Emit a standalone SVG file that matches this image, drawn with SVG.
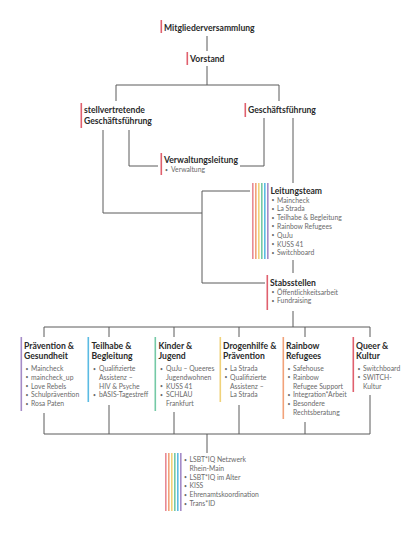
<svg xmlns="http://www.w3.org/2000/svg" width="416" height="546" viewBox="0 0 416 546">
<style>
.t{font-family:Lato,"Open Sans","Liberation Sans",sans-serif;font-weight:700;font-size:8.6px;fill:#2a2a2a}
.i{font-family:Lato,"Open Sans","Liberation Sans",sans-serif;font-weight:400;font-size:6.8px;fill:#6a6a6a}
.i .b{font-size:5px}
.c{fill:none;stroke:#5a5a5a;stroke-width:1}
.red{fill:#e0606e}
.rb1{fill:#e88a94}.rb2{fill:#f2a27a}.rb3{fill:#f0d27a}.rb4{fill:#74c9a6}.rb5{fill:#5bbbe3}.rb6{fill:#a58cc8}
</style>
<rect width="416" height="546" fill="#fff"/>
<g id="connectors" class="c">
<path d="M207 36V51M207 66V85M116 85H279M116 85V101M279 85V101"/>
<path d="M103 130V213H202M129 130V166H158"/>
<path d="M264 118V166H240M293 118V183"/>
<path d="M202 191H250M202 191V283H265"/>
<path d="M293 260V273"/>
<path d="M293 311V327M44 327H370M44 327V337M109 327V337M174 327V337M239 327V337M305 327V337M370 327V337"/>
<path d="M44 413V434M109 405V434M174 412V434M239 405V434M305 422V434M370 395V434M44 434H370M207 434V453"/>
</g>
<g id="mitgliederversammlung">
<rect class="red" x="160.5" y="20" width="1.6" height="13"/>
<text class="t" x="164" y="30.5">Mitgliederversammlung</text>
</g>
<g id="vorstand">
<rect class="red" x="186.5" y="52" width="1.6" height="13"/>
<text class="t" x="190" y="61.5">Vorstand</text>
</g>
<g id="stellvertretende">
<rect class="red" x="80.5" y="103" width="1.6" height="25"/>
<text class="t" x="84" y="113">stellvertretende</text>
<text class="t" x="84" y="124">Geschäftsführung</text>
</g>
<g id="geschaeftsfuehrung">
<rect class="red" x="244.5" y="103" width="1.6" height="14"/>
<text class="t" x="248" y="113">Geschäftsführung</text>
</g>
<g id="verwaltungsleitung">
<rect class="red" x="160.5" y="153" width="1.6" height="22"/>
<text class="t" x="164" y="163">Verwaltungsleitung</text>
<g class="i"><text class="b" x="165" y="171.5">•</text><text x="171" y="172">Verwaltung</text></g>
</g>
<g id="leitungsteam">
<rect class="rb1" x="252" y="183" width="1.6" height="76"/>
<rect class="rb2" x="255" y="183" width="1.6" height="76"/>
<rect class="rb3" x="258" y="183" width="1.6" height="76"/>
<rect class="rb4" x="261" y="183" width="1.6" height="76"/>
<rect class="rb5" x="264" y="183" width="1.6" height="76"/>
<rect class="rb6" x="267" y="183" width="1.6" height="76"/>
<text class="t" x="270.5" y="193.5">Leitungsteam</text>
<g class="i">
<text class="b" x="271.5" y="202">•</text><text x="277" y="202.5">Maincheck</text>
<text class="b" x="271.5" y="210.8">•</text><text x="277" y="211.3">La Strada</text>
<text class="b" x="271.5" y="219.6">•</text><text x="277" y="220.1">Teilhabe &amp; Begleitung</text>
<text class="b" x="271.5" y="228.4">•</text><text x="277" y="228.9">Rainbow Refugees</text>
<text class="b" x="271.5" y="237.2">•</text><text x="277" y="237.7">QuJu</text>
<text class="b" x="271.5" y="246">•</text><text x="277" y="246.5">KUSS 41</text>
<text class="b" x="271.5" y="254.8">•</text><text x="277" y="255.3">Switchboard</text>
</g>
</g>
<g id="stabsstellen">
<rect class="red" x="266.5" y="275" width="1.6" height="35"/>
<text class="t" x="270" y="285.5">Stabsstellen</text>
<g class="i">
<text class="b" x="271.5" y="294">•</text><text x="277" y="294.5">Öffentlichkeitsarbeit</text>
<text class="b" x="271.5" y="302.5">•</text><text x="277" y="303">Fundraising</text>
</g>
</g>
<g id="praevention">
<rect class="rb6" x="20.5" y="337" width="1.6" height="74"/>
<text class="t" x="24" y="349">Prävention &amp;</text>
<text class="t" x="24" y="359">Gesundheit</text>
<g class="i">
<text class="b" x="25.5" y="370.5">•</text><text x="31" y="371">Maincheck</text>
<text class="b" x="25.5" y="379.3">•</text><text x="31" y="379.8">maincheck_up</text>
<text class="b" x="25.5" y="388.1">•</text><text x="31" y="388.6">Love Rebels</text>
<text class="b" x="25.5" y="396.9">•</text><text x="31" y="397.4">Schulprävention</text>
<text class="b" x="25.5" y="405.7">•</text><text x="31" y="406.2">Rosa Paten</text>
</g>
</g>
<g id="teilhabe">
<rect class="rb5" x="87.5" y="337" width="1.6" height="65"/>
<text class="t" x="91.5" y="349">Teilhabe &amp;</text>
<text class="t" x="91.5" y="359">Begleitung</text>
<g class="i">
<text class="b" x="93" y="370.5">•</text><text x="99" y="371">Qualifizierte</text>
<text x="99" y="379.8">Assistenz –</text>
<text x="99" y="388.6">HIV &amp; Psyche</text>
<text class="b" x="93" y="396.9">•</text><text x="99" y="397.4">bASIS-Tagestreff</text>
</g>
</g>
<g id="kinder">
<rect class="rb4" x="154.5" y="337" width="1.6" height="74"/>
<text class="t" x="158.5" y="349">Kinder &amp;</text>
<text class="t" x="158.5" y="359">Jugend</text>
<g class="i">
<text class="b" x="160" y="370.5">•</text><text x="166" y="371">QuJu – Queeres</text>
<text x="166" y="379.8">Jugendwohnen</text>
<text class="b" x="160" y="388.1">•</text><text x="166" y="388.6">KUSS 41</text>
<text class="b" x="160" y="396.9">•</text><text x="166" y="397.4">SCHLAU</text>
<text x="166" y="406.2">Frankfurt</text>
</g>
</g>
<g id="drogenhilfe">
<rect class="rb3" x="219.5" y="337" width="1.6" height="65"/>
<text class="t" x="223" y="349">Drogenhilfe &amp;</text>
<text class="t" x="223" y="359">Prävention</text>
<g class="i">
<text class="b" x="224.5" y="370.5">•</text><text x="230" y="371">La Strada</text>
<text class="b" x="224.5" y="379.3">•</text><text x="230" y="379.8">Qualifizierte</text>
<text x="230" y="388.6">Assistenz –</text>
<text x="230" y="397.4">La Strada</text>
</g>
</g>
<g id="rainbow-refugees">
<rect class="rb2" x="282.5" y="337" width="1.6" height="82"/>
<text class="t" x="286" y="349">Rainbow</text>
<text class="t" x="286" y="359">Refugees</text>
<g class="i">
<text class="b" x="287.5" y="370.5">•</text><text x="293" y="371">Safehouse</text>
<text class="b" x="287.5" y="379.3">•</text><text x="293" y="379.8">Rainbow</text>
<text x="293" y="388.6">Refugee Support</text>
<text class="b" x="287.5" y="396.9">•</text><text x="293" y="397.4">Integration*Arbeit</text>
<text class="b" x="287.5" y="405.7">•</text><text x="293" y="406.2">Besondere</text>
<text x="293" y="415">Rechtsberatung</text>
</g>
</g>
<g id="queer-kultur">
<rect class="red" x="352.5" y="337" width="1.6" height="55"/>
<text class="t" x="356" y="349">Queer &amp;</text>
<text class="t" x="356" y="359">Kultur</text>
<g class="i">
<text class="b" x="357.5" y="370.5">•</text><text x="363" y="371">Switchboard</text>
<text class="b" x="357.5" y="379.3">•</text><text x="363" y="379.8">SWITCH-</text>
<text x="363" y="388.6">Kultur</text>
</g>
</g>
<g id="bottom-list">
<rect class="rb1" x="165" y="453" width="1.6" height="58"/>
<rect class="rb2" x="168" y="453" width="1.6" height="58"/>
<rect class="rb3" x="171" y="453" width="1.6" height="58"/>
<rect class="rb4" x="174" y="453" width="1.6" height="58"/>
<rect class="rb5" x="177" y="453" width="1.6" height="58"/>
<rect class="rb6" x="180" y="453" width="1.6" height="58"/>
<g class="i">
<text class="b" x="184" y="461.5">•</text><text x="189.5" y="462">LSBT*IQ Netzwerk</text>
<text x="189.5" y="470.8">Rhein-Main</text>
<text class="b" x="184" y="479.1">•</text><text x="189.5" y="479.6">LSBT*IQ im Alter</text>
<text class="b" x="184" y="487.9">•</text><text x="189.5" y="488.4">KISS</text>
<text class="b" x="184" y="496.7">•</text><text x="189.5" y="497.2">Ehrenamtskoordination</text>
<text class="b" x="184" y="505.5">•</text><text x="189.5" y="506">Trans*ID</text>
</g>
</g>
</svg>
